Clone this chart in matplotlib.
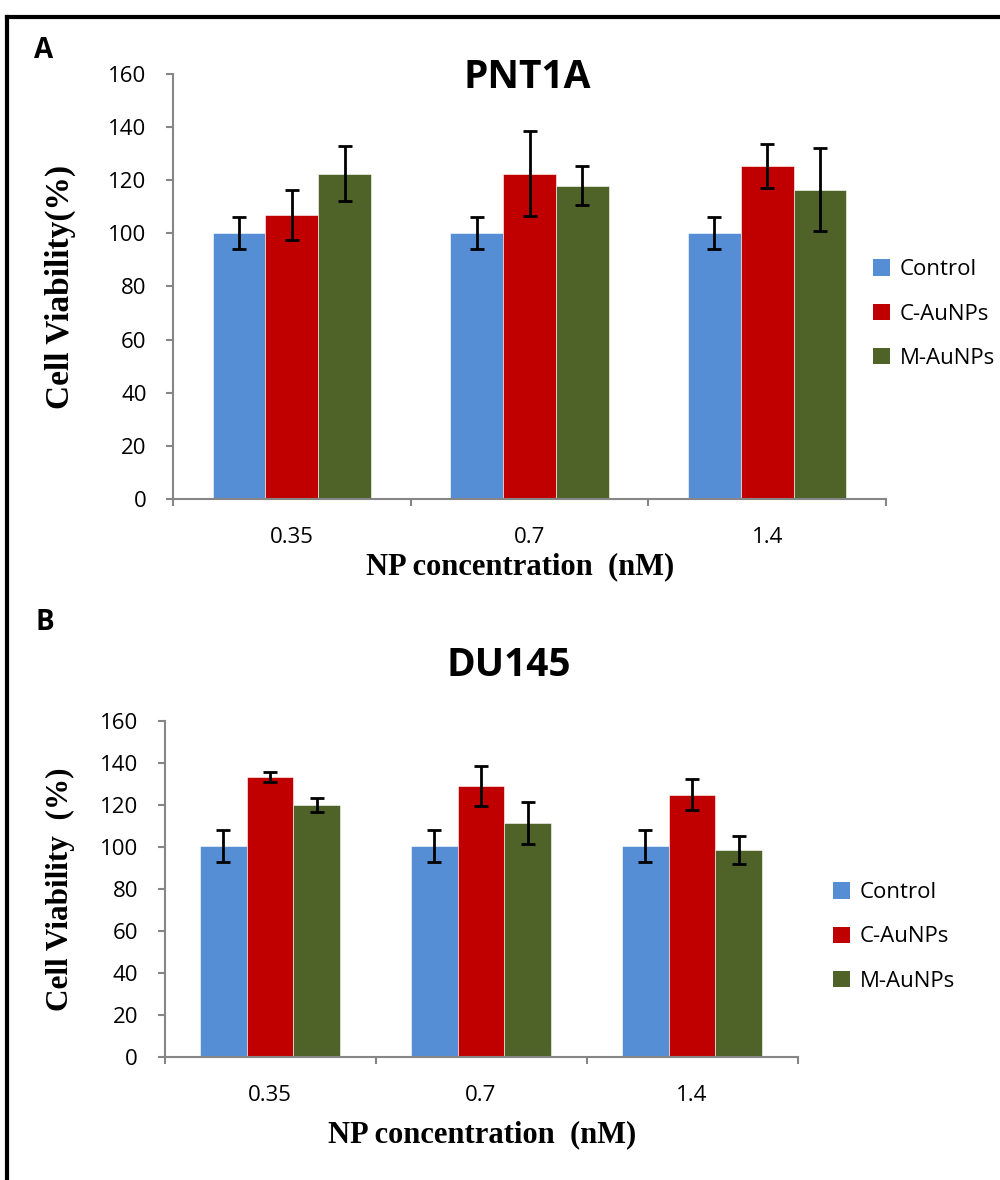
import numpy as np
import matplotlib
matplotlib.use("Agg")
import matplotlib.pyplot as plt
from matplotlib.patches import Patch
from matplotlib.lines import Line2D

# data
concentrations = ["0.35", "0.7", "1.4"]
series = ["Control", "C-AuNPs", "M-AuNPs"]
colors = ["#558ED5", "#C00000", "#4F6228"]

pnt1a_mean = [[100, 100, 100], [107, 122.5, 125.5], [122.5, 118, 116.5]]
pnt1a_err = [[6, 6, 6], [9.5, 16, 8.3], [10.5, 7.2, 15.5]]

du145_mean = [[100.5, 100.5, 100.5], [133.5, 129, 125], [120, 111.5, 98.5]]
du145_err = [[7.5, 7.5, 7.5], [2.4, 9.6, 7.2], [3.4, 10, 6.7]]

yticks = [0, 20, 40, 60, 80, 100, 120, 140, 160]

spine_col = "#868686"
sans = "Open Sans"
serif = "Liberation Serif"

fig = plt.figure(figsize=(10, 11.8), dpi=100)


def draw_panel(rect, means, errs, title, title_x, title_y, ylabel, ylab_size,
               xlabel, xlab_x, xlab_y, leg_x, leg_y):
    ax = fig.add_axes(rect)
    x = np.arange(len(concentrations))
    w = 0.222
    for i in range(len(series)):
        ax.bar(x + (i - 1) * w, means[i], width=w, color=colors[i],
               edgecolor="white", linewidth=0.4, zorder=2)
        ax.errorbar(x + (i - 1) * w, means[i], yerr=errs[i], fmt="none",
                    ecolor="black", elinewidth=2, capsize=5, capthick=2, zorder=3)
    ax.set_xlim(-0.5, 2.5)
    ax.set_ylim(0, 160)
    ax.set_yticks(yticks)
    ax.set_yticklabels([str(v) for v in yticks], fontsize=16, family=sans)
    ax.set_xticks(x)
    ax.set_xticklabels(concentrations, fontsize=16, family=sans)
    # category boundaries get the small tick marks, like Excel
    ax.set_xticks([-0.5, 0.5, 1.5, 2.5], minor=True)
    ax.tick_params(axis="x", which="major", length=0, pad=20)
    ax.tick_params(axis="x", which="minor", length=5, width=1.5, color=spine_col, direction="out")
    ax.tick_params(axis="y", length=5, width=1.5, color=spine_col, pad=14)
    for s in ["top", "right"]:
        ax.spines[s].set_visible(False)
    for s in ["left", "bottom"]:
        ax.spines[s].set_color(spine_col)
        ax.spines[s].set_linewidth(1.5)

    fig.text(title_x, title_y, title, ha="center", va="center", fontsize=28,
             fontweight="bold", family=sans)
    fig.text(0.060, rect[1] + rect[3] / 2, ylabel, rotation=90, ha="center",
             va="center", fontsize=ylab_size, fontweight="bold", family=serif)
    fig.text(xlab_x, xlab_y, xlabel, ha="center", va="center", fontsize=22,
             fontweight="bold", family=serif)

    handles = [Patch(facecolor=c, edgecolor="none") for c in colors]
    fig.legend(handles, series, loc="center left", bbox_to_anchor=(leg_x, leg_y),
               frameon=False, prop={"family": sans, "size": 16},
               handlelength=0.75, handleheight=0.75, handletextpad=0.45,
               labelspacing=1.05, borderpad=0)
    return ax


# panel A
draw_panel([0.173, 1 - 499 / 1180, 0.713, 425 / 1180], pnt1a_mean, pnt1a_err,
           "PNT1A", 0.527, 1 - 77 / 1180, "Cell Viability(%)", 24,
           "NP concentration  (nM)", 0.52, 1 - 567 / 1180,
           0.862, 1 - 314 / 1180)

# panel B
draw_panel([0.1645, 1 - 1057 / 1180, 0.633, 336 / 1180], du145_mean, du145_err,
           "DU145", 0.509, 1 - 665 / 1180, "Cell Viability  (%)", 22.5,
           "NP concentration  (nM)", 0.482, 1 - 1135 / 1180,
           0.822, 1 - 937 / 1180)

# panel letters
fig.text(0.034, 1 - 50 / 1180, "A", fontsize=20, fontweight="bold", family=sans,
         ha="left", va="center")
fig.text(0.036, 1 - 622 / 1180, "B", fontsize=20, fontweight="bold", family=sans,
         ha="left", va="center")

# outer frame (top and left only)
fig.add_artist(Line2D([0.007, 1.0], [1 - 16.5 / 1180, 1 - 16.5 / 1180],
                      transform=fig.transFigure, color="black", linewidth=3))
fig.add_artist(Line2D([0.007, 0.007], [0, 1 - 16.5 / 1180],
                      transform=fig.transFigure, color="black", linewidth=3))

fig.savefig("out.png", dpi=100)
